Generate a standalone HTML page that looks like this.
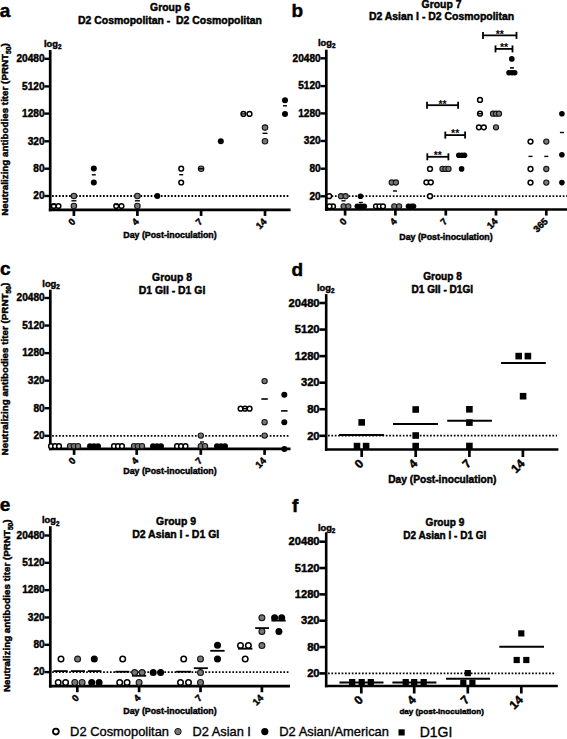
<!DOCTYPE html>
<html><head><meta charset="utf-8"><style>html,body{margin:0;padding:0;background:#fff;}svg{display:block;}</style></head>
<body>
<svg width="567" height="739" viewBox="0 0 567 739">
<rect width="567" height="739" fill="#fff"/>
<text x="-0.30" y="16.50" font-family="Liberation Sans, sans-serif" font-weight="bold" font-size="19" text-anchor="start" stroke="#000" stroke-width="0.45" >a</text>
<text x="170.00" y="10.60" font-family="Liberation Sans, sans-serif" font-weight="bold" font-size="10.4" text-anchor="middle" stroke="#000" stroke-width="0.45" >Group 6</text>
<text x="170.00" y="23.80" font-family="Liberation Sans, sans-serif" font-weight="bold" font-size="10.45" text-anchor="middle" stroke="#000" stroke-width="0.45" style="white-space:pre">D2 Cosmopolitan -  D2 Cosmopolitan</text>
<text x="0" y="0" font-family="Liberation Sans, sans-serif" font-weight="bold" font-size="9.82" stroke="#000" stroke-width="0.45" text-anchor="middle" transform="translate(8.30 129.50) rotate(-90)">Neutralizing antibodies titer (PRNT<tspan font-size="6.68" dy="2.95">50</tspan><tspan dy="-2.95">)</tspan></text>
<text x="44.00" y="46.80" font-family="Liberation Sans, sans-serif" font-weight="bold" font-size="9.3" stroke="#000" stroke-width="0.45">log<tspan font-size="6.32" dy="2.60">2</tspan></text>
<line x1="50.20" y1="50.00" x2="50.20" y2="211.25" stroke="#000" stroke-width="2.7" />
<line x1="48.85" y1="209.90" x2="290.60" y2="209.90" stroke="#000" stroke-width="2.7" />
<line x1="44.35" y1="58.80" x2="50.20" y2="58.80" stroke="#000" stroke-width="2.4" />
<text x="44.55" y="62.13" font-family="Liberation Sans, sans-serif" font-weight="bold" font-size="10.1" text-anchor="end" stroke="#000" stroke-width="0.45" >20480</text>
<line x1="44.35" y1="86.40" x2="50.20" y2="86.40" stroke="#000" stroke-width="2.4" />
<text x="44.55" y="89.73" font-family="Liberation Sans, sans-serif" font-weight="bold" font-size="10.1" text-anchor="end" stroke="#000" stroke-width="0.45" >5120</text>
<line x1="44.35" y1="113.60" x2="50.20" y2="113.60" stroke="#000" stroke-width="2.4" />
<text x="44.55" y="116.93" font-family="Liberation Sans, sans-serif" font-weight="bold" font-size="10.1" text-anchor="end" stroke="#000" stroke-width="0.45" >1280</text>
<line x1="44.35" y1="141.30" x2="50.20" y2="141.30" stroke="#000" stroke-width="2.4" />
<text x="44.55" y="144.63" font-family="Liberation Sans, sans-serif" font-weight="bold" font-size="10.1" text-anchor="end" stroke="#000" stroke-width="0.45" >320</text>
<line x1="44.35" y1="168.70" x2="50.20" y2="168.70" stroke="#000" stroke-width="2.4" />
<text x="44.55" y="172.03" font-family="Liberation Sans, sans-serif" font-weight="bold" font-size="10.1" text-anchor="end" stroke="#000" stroke-width="0.45" >80</text>
<line x1="44.35" y1="196.00" x2="50.20" y2="196.00" stroke="#000" stroke-width="2.4" />
<text x="44.55" y="199.33" font-family="Liberation Sans, sans-serif" font-weight="bold" font-size="10.1" text-anchor="end" stroke="#000" stroke-width="0.45" >20</text>
<line x1="52.05" y1="196.00" x2="290.00" y2="196.00" stroke="#000" stroke-width="1.8" stroke-dasharray="1.7 1.7"/>
<line x1="73.90" y1="209.90" x2="73.90" y2="215.95" stroke="#000" stroke-width="2.7" />
<text x="76.10" y="222.30" font-family="Liberation Sans, sans-serif" font-weight="bold" font-size="9.5" text-anchor="end" stroke="#000" stroke-width="0.45" transform="rotate(-45 76.10 222.30)">0</text>
<line x1="137.40" y1="209.90" x2="137.40" y2="215.95" stroke="#000" stroke-width="2.7" />
<text x="139.60" y="222.30" font-family="Liberation Sans, sans-serif" font-weight="bold" font-size="9.5" text-anchor="end" stroke="#000" stroke-width="0.45" transform="rotate(-45 139.60 222.30)">4</text>
<line x1="201.10" y1="209.90" x2="201.10" y2="215.95" stroke="#000" stroke-width="2.7" />
<text x="203.30" y="222.30" font-family="Liberation Sans, sans-serif" font-weight="bold" font-size="9.5" text-anchor="end" stroke="#000" stroke-width="0.45" transform="rotate(-45 203.30 222.30)">7</text>
<line x1="265.00" y1="209.90" x2="265.00" y2="215.95" stroke="#000" stroke-width="2.7" />
<text x="267.20" y="222.30" font-family="Liberation Sans, sans-serif" font-weight="bold" font-size="9.5" text-anchor="end" stroke="#000" stroke-width="0.45" transform="rotate(-45 267.20 222.30)">14</text>
<text x="170.00" y="238.10" font-family="Liberation Sans, sans-serif" font-weight="bold" font-size="8.8" text-anchor="middle" stroke="#000" stroke-width="0.45" >Day (Post-inoculation)</text>
<circle cx="53.80" cy="206.00" r="2.35" fill="#fff" stroke="#000" stroke-width="1.5"/>
<circle cx="58.50" cy="206.00" r="2.35" fill="#fff" stroke="#000" stroke-width="1.5"/>
<line x1="51.80" y1="204.50" x2="55.80" y2="204.50" stroke="#000" stroke-width="1.4" />
<circle cx="73.90" cy="196.00" r="2.75" fill="#787878" stroke="#151515" stroke-width="1.1"/>
<circle cx="73.90" cy="206.00" r="2.75" fill="#787878" stroke="#151515" stroke-width="1.1"/>
<line x1="71.40" y1="200.80" x2="76.40" y2="200.80" stroke="#000" stroke-width="1.4" />
<circle cx="93.80" cy="168.60" r="3.00" fill="#000"/>
<circle cx="93.80" cy="182.40" r="3.00" fill="#000"/>
<line x1="91.80" y1="174.80" x2="95.80" y2="174.80" stroke="#000" stroke-width="1.4" />
<circle cx="116.20" cy="206.00" r="2.35" fill="#fff" stroke="#000" stroke-width="1.5"/>
<circle cx="121.50" cy="206.00" r="2.35" fill="#fff" stroke="#000" stroke-width="1.5"/>
<line x1="114.20" y1="204.50" x2="118.20" y2="204.50" stroke="#000" stroke-width="1.4" />
<circle cx="137.40" cy="196.00" r="2.75" fill="#787878" stroke="#151515" stroke-width="1.1"/>
<circle cx="137.40" cy="206.00" r="2.75" fill="#787878" stroke="#151515" stroke-width="1.1"/>
<line x1="134.90" y1="200.80" x2="139.90" y2="200.80" stroke="#000" stroke-width="1.4" />
<circle cx="157.30" cy="196.00" r="3.00" fill="#000"/>
<circle cx="181.20" cy="168.70" r="2.35" fill="#fff" stroke="#000" stroke-width="1.5"/>
<circle cx="181.20" cy="182.50" r="2.35" fill="#fff" stroke="#000" stroke-width="1.5"/>
<line x1="179.20" y1="174.70" x2="183.20" y2="174.70" stroke="#000" stroke-width="1.4" />
<circle cx="201.10" cy="168.70" r="2.75" fill="#787878" stroke="#151515" stroke-width="1.1"/>
<line x1="198.60" y1="168.70" x2="203.60" y2="168.70" stroke="#000" stroke-width="1.4" />
<circle cx="220.80" cy="141.20" r="3.00" fill="#000"/>
<circle cx="249.50" cy="113.90" r="2.35" fill="#fff" stroke="#000" stroke-width="1.5"/>
<circle cx="243.40" cy="113.90" r="2.35" fill="#fff" stroke="#000" stroke-width="1.5"/>
<line x1="241.40" y1="113.90" x2="245.40" y2="113.90" stroke="#000" stroke-width="1.4" />
<circle cx="265.00" cy="127.60" r="2.75" fill="#787878" stroke="#151515" stroke-width="1.1"/>
<circle cx="265.00" cy="141.20" r="2.75" fill="#787878" stroke="#151515" stroke-width="1.1"/>
<line x1="262.50" y1="133.30" x2="267.50" y2="133.30" stroke="#000" stroke-width="1.4" />
<circle cx="285.00" cy="100.20" r="3.00" fill="#000"/>
<circle cx="285.00" cy="114.00" r="3.00" fill="#000"/>
<line x1="283.00" y1="105.80" x2="287.00" y2="105.80" stroke="#000" stroke-width="1.4" />
<text x="291.40" y="16.90" font-family="Liberation Sans, sans-serif" font-weight="bold" font-size="19" text-anchor="start" stroke="#000" stroke-width="0.45" >b</text>
<text x="441.50" y="7.60" font-family="Liberation Sans, sans-serif" font-weight="bold" font-size="10.4" text-anchor="middle" stroke="#000" stroke-width="0.45" >Group 7</text>
<text x="441.50" y="20.30" font-family="Liberation Sans, sans-serif" font-weight="bold" font-size="10.45" text-anchor="middle" stroke="#000" stroke-width="0.45" >D2 Asian I - D2 Cosmopolitan</text>
<text x="318.00" y="45.80" font-family="Liberation Sans, sans-serif" font-weight="bold" font-size="9.3" stroke="#000" stroke-width="0.45">log<tspan font-size="6.32" dy="2.60">2</tspan></text>
<line x1="326.30" y1="49.70" x2="326.30" y2="210.85" stroke="#000" stroke-width="2.7" />
<line x1="324.95" y1="209.50" x2="567.00" y2="209.50" stroke="#000" stroke-width="2.7" />
<line x1="320.45" y1="58.30" x2="326.30" y2="58.30" stroke="#000" stroke-width="2.4" />
<text x="320.65" y="61.63" font-family="Liberation Sans, sans-serif" font-weight="bold" font-size="10.1" text-anchor="end" stroke="#000" stroke-width="0.45" >20480</text>
<line x1="320.45" y1="86.10" x2="326.30" y2="86.10" stroke="#000" stroke-width="2.4" />
<text x="320.65" y="89.43" font-family="Liberation Sans, sans-serif" font-weight="bold" font-size="10.1" text-anchor="end" stroke="#000" stroke-width="0.45" >5120</text>
<line x1="320.45" y1="113.40" x2="326.30" y2="113.40" stroke="#000" stroke-width="2.4" />
<text x="320.65" y="116.73" font-family="Liberation Sans, sans-serif" font-weight="bold" font-size="10.1" text-anchor="end" stroke="#000" stroke-width="0.45" >1280</text>
<line x1="320.45" y1="141.00" x2="326.30" y2="141.00" stroke="#000" stroke-width="2.4" />
<text x="320.65" y="144.33" font-family="Liberation Sans, sans-serif" font-weight="bold" font-size="10.1" text-anchor="end" stroke="#000" stroke-width="0.45" >320</text>
<line x1="320.45" y1="168.70" x2="326.30" y2="168.70" stroke="#000" stroke-width="2.4" />
<text x="320.65" y="172.03" font-family="Liberation Sans, sans-serif" font-weight="bold" font-size="10.1" text-anchor="end" stroke="#000" stroke-width="0.45" >80</text>
<line x1="320.45" y1="196.30" x2="326.30" y2="196.30" stroke="#000" stroke-width="2.4" />
<text x="320.65" y="199.63" font-family="Liberation Sans, sans-serif" font-weight="bold" font-size="10.1" text-anchor="end" stroke="#000" stroke-width="0.45" >20</text>
<line x1="328.15" y1="196.20" x2="567.00" y2="196.20" stroke="#000" stroke-width="1.8" stroke-dasharray="1.7 1.7"/>
<line x1="345.10" y1="209.50" x2="345.10" y2="215.55" stroke="#000" stroke-width="2.7" />
<text x="347.30" y="221.90" font-family="Liberation Sans, sans-serif" font-weight="bold" font-size="9.5" text-anchor="end" stroke="#000" stroke-width="0.45" transform="rotate(-45 347.30 221.90)">0</text>
<line x1="395.40" y1="209.50" x2="395.40" y2="215.55" stroke="#000" stroke-width="2.7" />
<text x="397.60" y="221.90" font-family="Liberation Sans, sans-serif" font-weight="bold" font-size="9.5" text-anchor="end" stroke="#000" stroke-width="0.45" transform="rotate(-45 397.60 221.90)">4</text>
<line x1="445.80" y1="209.50" x2="445.80" y2="215.55" stroke="#000" stroke-width="2.7" />
<text x="448.00" y="221.90" font-family="Liberation Sans, sans-serif" font-weight="bold" font-size="9.5" text-anchor="end" stroke="#000" stroke-width="0.45" transform="rotate(-45 448.00 221.90)">7</text>
<line x1="496.00" y1="209.50" x2="496.00" y2="215.55" stroke="#000" stroke-width="2.7" />
<text x="498.20" y="221.90" font-family="Liberation Sans, sans-serif" font-weight="bold" font-size="9.5" text-anchor="end" stroke="#000" stroke-width="0.45" transform="rotate(-45 498.20 221.90)">14</text>
<line x1="546.30" y1="209.50" x2="546.30" y2="215.55" stroke="#000" stroke-width="2.7" />
<text x="548.50" y="221.90" font-family="Liberation Sans, sans-serif" font-weight="bold" font-size="9.5" text-anchor="end" stroke="#000" stroke-width="0.45" transform="rotate(-45 548.50 221.90)">365</text>
<text x="446.00" y="240.20" font-family="Liberation Sans, sans-serif" font-weight="bold" font-size="8.8" text-anchor="middle" stroke="#000" stroke-width="0.45" >Day (Post-inoculation)</text>
<circle cx="329.20" cy="196.20" r="2.40" fill="#fff" stroke="#000" stroke-width="1.5"/>
<circle cx="333.00" cy="206.30" r="2.40" fill="#fff" stroke="#000" stroke-width="1.5"/>
<circle cx="329.50" cy="206.30" r="2.40" fill="#fff" stroke="#000" stroke-width="1.5"/>
<circle cx="341.00" cy="196.20" r="2.60" fill="#787878" stroke="#151515" stroke-width="1.1"/>
<circle cx="345.60" cy="196.20" r="2.60" fill="#787878" stroke="#151515" stroke-width="1.1"/>
<circle cx="343.60" cy="206.30" r="2.60" fill="#787878" stroke="#151515" stroke-width="1.1"/>
<circle cx="348.30" cy="206.30" r="2.60" fill="#787878" stroke="#151515" stroke-width="1.1"/>
<line x1="341.50" y1="200.80" x2="345.50" y2="200.80" stroke="#000" stroke-width="1.4" />
<circle cx="360.50" cy="196.20" r="2.80" fill="#000"/>
<circle cx="357.30" cy="206.30" r="2.80" fill="#000"/>
<circle cx="360.80" cy="206.30" r="2.80" fill="#000"/>
<circle cx="364.30" cy="206.30" r="2.80" fill="#000"/>
<line x1="358.80" y1="202.50" x2="362.80" y2="202.50" stroke="#000" stroke-width="1.4" />
<circle cx="376.00" cy="206.30" r="2.40" fill="#fff" stroke="#000" stroke-width="1.5"/>
<circle cx="379.50" cy="206.30" r="2.40" fill="#fff" stroke="#000" stroke-width="1.5"/>
<circle cx="383.00" cy="206.30" r="2.40" fill="#fff" stroke="#000" stroke-width="1.5"/>
<circle cx="391.70" cy="182.50" r="2.60" fill="#787878" stroke="#151515" stroke-width="1.1"/>
<circle cx="395.90" cy="182.50" r="2.60" fill="#787878" stroke="#151515" stroke-width="1.1"/>
<circle cx="394.30" cy="206.30" r="2.60" fill="#787878" stroke="#151515" stroke-width="1.1"/>
<circle cx="399.10" cy="206.30" r="2.60" fill="#787878" stroke="#151515" stroke-width="1.1"/>
<line x1="393.00" y1="191.00" x2="397.00" y2="191.00" stroke="#000" stroke-width="1.4" />
<circle cx="408.50" cy="206.30" r="2.80" fill="#000"/>
<circle cx="411.50" cy="206.30" r="2.80" fill="#000"/>
<circle cx="413.50" cy="206.30" r="2.80" fill="#000"/>
<circle cx="430.00" cy="196.20" r="2.40" fill="#fff" stroke="#000" stroke-width="1.5"/>
<circle cx="426.40" cy="182.30" r="2.40" fill="#fff" stroke="#000" stroke-width="1.5"/>
<circle cx="430.80" cy="182.30" r="2.40" fill="#fff" stroke="#000" stroke-width="1.5"/>
<circle cx="430.00" cy="168.90" r="2.40" fill="#fff" stroke="#000" stroke-width="1.5"/>
<circle cx="442.50" cy="168.90" r="2.60" fill="#787878" stroke="#151515" stroke-width="1.1"/>
<circle cx="445.50" cy="168.90" r="2.60" fill="#787878" stroke="#151515" stroke-width="1.1"/>
<circle cx="448.50" cy="168.90" r="2.60" fill="#787878" stroke="#151515" stroke-width="1.1"/>
<circle cx="461.60" cy="168.90" r="2.80" fill="#000"/>
<circle cx="458.80" cy="155.30" r="2.80" fill="#000"/>
<circle cx="461.80" cy="155.30" r="2.80" fill="#000"/>
<circle cx="464.50" cy="155.30" r="2.80" fill="#000"/>
<circle cx="480.00" cy="99.90" r="2.40" fill="#fff" stroke="#000" stroke-width="1.5"/>
<circle cx="480.00" cy="113.70" r="2.40" fill="#fff" stroke="#000" stroke-width="1.5"/>
<line x1="478.00" y1="113.70" x2="482.00" y2="113.70" stroke="#000" stroke-width="1.4" />
<circle cx="478.90" cy="127.30" r="2.40" fill="#fff" stroke="#000" stroke-width="1.5"/>
<circle cx="483.80" cy="127.30" r="2.40" fill="#fff" stroke="#000" stroke-width="1.5"/>
<circle cx="493.00" cy="113.70" r="2.60" fill="#787878" stroke="#151515" stroke-width="1.1"/>
<circle cx="496.00" cy="113.70" r="2.60" fill="#787878" stroke="#151515" stroke-width="1.1"/>
<circle cx="499.00" cy="113.70" r="2.60" fill="#787878" stroke="#151515" stroke-width="1.1"/>
<circle cx="496.00" cy="127.30" r="2.60" fill="#787878" stroke="#151515" stroke-width="1.1"/>
<circle cx="511.80" cy="58.90" r="2.80" fill="#000"/>
<circle cx="509.00" cy="72.70" r="2.80" fill="#000"/>
<circle cx="512.00" cy="72.70" r="2.80" fill="#000"/>
<circle cx="514.70" cy="72.70" r="2.80" fill="#000"/>
<line x1="510.10" y1="67.90" x2="513.90" y2="67.90" stroke="#000" stroke-width="1.6" />
<circle cx="530.50" cy="141.60" r="2.40" fill="#fff" stroke="#000" stroke-width="1.5"/>
<circle cx="530.50" cy="169.00" r="2.40" fill="#fff" stroke="#000" stroke-width="1.5"/>
<circle cx="530.50" cy="182.60" r="2.40" fill="#fff" stroke="#000" stroke-width="1.5"/>
<line x1="528.50" y1="156.40" x2="532.50" y2="156.40" stroke="#000" stroke-width="1.4" />
<circle cx="546.30" cy="141.60" r="2.60" fill="#787878" stroke="#151515" stroke-width="1.1"/>
<circle cx="546.30" cy="169.00" r="2.60" fill="#787878" stroke="#151515" stroke-width="1.1"/>
<circle cx="546.30" cy="182.60" r="2.60" fill="#787878" stroke="#151515" stroke-width="1.1"/>
<line x1="544.30" y1="156.40" x2="548.30" y2="156.40" stroke="#000" stroke-width="1.4" />
<circle cx="561.90" cy="113.80" r="2.80" fill="#000"/>
<circle cx="561.90" cy="154.80" r="2.80" fill="#000"/>
<circle cx="561.90" cy="182.60" r="2.80" fill="#000"/>
<line x1="559.90" y1="132.50" x2="563.90" y2="132.50" stroke="#000" stroke-width="1.4" />
<line x1="427.30" y1="156.80" x2="448.40" y2="156.80" stroke="#000" stroke-width="1.8" />
<line x1="427.30" y1="153.30" x2="427.30" y2="160.30" stroke="#000" stroke-width="1.8" />
<line x1="448.40" y1="153.30" x2="448.40" y2="160.30" stroke="#000" stroke-width="1.8" />
<text x="437.85" y="159.10" font-family="Liberation Sans, sans-serif" font-weight="bold" font-size="10.5" text-anchor="middle">**</text>
<line x1="445.30" y1="135.10" x2="465.10" y2="135.10" stroke="#000" stroke-width="1.8" />
<line x1="445.30" y1="131.60" x2="445.30" y2="138.60" stroke="#000" stroke-width="1.8" />
<line x1="465.10" y1="131.60" x2="465.10" y2="138.60" stroke="#000" stroke-width="1.8" />
<text x="455.20" y="137.40" font-family="Liberation Sans, sans-serif" font-weight="bold" font-size="10.5" text-anchor="middle">**</text>
<line x1="427.00" y1="105.20" x2="458.10" y2="105.20" stroke="#000" stroke-width="1.8" />
<line x1="427.00" y1="101.70" x2="427.00" y2="108.70" stroke="#000" stroke-width="1.8" />
<line x1="458.10" y1="101.70" x2="458.10" y2="108.70" stroke="#000" stroke-width="1.8" />
<text x="442.55" y="107.50" font-family="Liberation Sans, sans-serif" font-weight="bold" font-size="10.5" text-anchor="middle">**</text>
<line x1="483.00" y1="35.40" x2="516.50" y2="35.40" stroke="#000" stroke-width="1.8" />
<line x1="483.00" y1="31.90" x2="483.00" y2="38.90" stroke="#000" stroke-width="1.8" />
<line x1="516.50" y1="31.90" x2="516.50" y2="38.90" stroke="#000" stroke-width="1.8" />
<text x="499.75" y="37.70" font-family="Liberation Sans, sans-serif" font-weight="bold" font-size="10.5" text-anchor="middle">**</text>
<line x1="495.50" y1="48.90" x2="512.50" y2="48.90" stroke="#000" stroke-width="1.8" />
<line x1="495.50" y1="45.40" x2="495.50" y2="52.40" stroke="#000" stroke-width="1.8" />
<line x1="512.50" y1="45.40" x2="512.50" y2="52.40" stroke="#000" stroke-width="1.8" />
<text x="504.00" y="51.20" font-family="Liberation Sans, sans-serif" font-weight="bold" font-size="10.5" text-anchor="middle">**</text>
<text x="0.00" y="275.30" font-family="Liberation Sans, sans-serif" font-weight="bold" font-size="19" text-anchor="start" stroke="#000" stroke-width="0.45" >c</text>
<text x="172.00" y="281.00" font-family="Liberation Sans, sans-serif" font-weight="bold" font-size="10.4" text-anchor="middle" stroke="#000" stroke-width="0.45" >Group 8</text>
<text x="172.00" y="294.30" font-family="Liberation Sans, sans-serif" font-weight="bold" font-size="10.45" text-anchor="middle" stroke="#000" stroke-width="0.45" >D1 GII - D1 GI</text>
<text x="0" y="0" font-family="Liberation Sans, sans-serif" font-weight="bold" font-size="9.82" stroke="#000" stroke-width="0.45" text-anchor="middle" transform="translate(8.30 369.10) rotate(-90)">Neutralizing antibodies titer (PRNT<tspan font-size="6.68" dy="2.95">50</tspan><tspan dy="-2.95">)</tspan></text>
<text x="42.30" y="286.60" font-family="Liberation Sans, sans-serif" font-weight="bold" font-size="9.3" stroke="#000" stroke-width="0.45">log<tspan font-size="6.32" dy="2.60">2</tspan></text>
<line x1="50.30" y1="289.70" x2="50.30" y2="450.15" stroke="#000" stroke-width="2.7" />
<line x1="48.95" y1="448.80" x2="290.50" y2="448.80" stroke="#000" stroke-width="2.7" />
<line x1="44.45" y1="298.00" x2="50.30" y2="298.00" stroke="#000" stroke-width="2.4" />
<text x="44.65" y="301.33" font-family="Liberation Sans, sans-serif" font-weight="bold" font-size="10.1" text-anchor="end" stroke="#000" stroke-width="0.45" >20480</text>
<line x1="44.45" y1="325.56" x2="50.30" y2="325.56" stroke="#000" stroke-width="2.4" />
<text x="44.65" y="328.89" font-family="Liberation Sans, sans-serif" font-weight="bold" font-size="10.1" text-anchor="end" stroke="#000" stroke-width="0.45" >5120</text>
<line x1="44.45" y1="353.12" x2="50.30" y2="353.12" stroke="#000" stroke-width="2.4" />
<text x="44.65" y="356.45" font-family="Liberation Sans, sans-serif" font-weight="bold" font-size="10.1" text-anchor="end" stroke="#000" stroke-width="0.45" >1280</text>
<line x1="44.45" y1="380.68" x2="50.30" y2="380.68" stroke="#000" stroke-width="2.4" />
<text x="44.65" y="384.01" font-family="Liberation Sans, sans-serif" font-weight="bold" font-size="10.1" text-anchor="end" stroke="#000" stroke-width="0.45" >320</text>
<line x1="44.45" y1="408.24" x2="50.30" y2="408.24" stroke="#000" stroke-width="2.4" />
<text x="44.65" y="411.57" font-family="Liberation Sans, sans-serif" font-weight="bold" font-size="10.1" text-anchor="end" stroke="#000" stroke-width="0.45" >80</text>
<line x1="44.45" y1="435.80" x2="50.30" y2="435.80" stroke="#000" stroke-width="2.4" />
<text x="44.65" y="439.13" font-family="Liberation Sans, sans-serif" font-weight="bold" font-size="10.1" text-anchor="end" stroke="#000" stroke-width="0.45" >20</text>
<line x1="52.15" y1="435.80" x2="290.00" y2="435.80" stroke="#000" stroke-width="1.8" stroke-dasharray="1.7 1.7"/>
<line x1="74.10" y1="448.80" x2="74.10" y2="454.85" stroke="#000" stroke-width="2.7" />
<text x="76.30" y="461.20" font-family="Liberation Sans, sans-serif" font-weight="bold" font-size="9.5" text-anchor="end" stroke="#000" stroke-width="0.45" transform="rotate(-45 76.30 461.20)">0</text>
<line x1="136.70" y1="448.80" x2="136.70" y2="454.85" stroke="#000" stroke-width="2.7" />
<text x="138.90" y="461.20" font-family="Liberation Sans, sans-serif" font-weight="bold" font-size="9.5" text-anchor="end" stroke="#000" stroke-width="0.45" transform="rotate(-45 138.90 461.20)">4</text>
<line x1="200.80" y1="448.80" x2="200.80" y2="454.85" stroke="#000" stroke-width="2.7" />
<text x="203.00" y="461.20" font-family="Liberation Sans, sans-serif" font-weight="bold" font-size="9.5" text-anchor="end" stroke="#000" stroke-width="0.45" transform="rotate(-45 203.00 461.20)">7</text>
<line x1="264.60" y1="448.80" x2="264.60" y2="454.85" stroke="#000" stroke-width="2.7" />
<text x="266.80" y="461.20" font-family="Liberation Sans, sans-serif" font-weight="bold" font-size="9.5" text-anchor="end" stroke="#000" stroke-width="0.45" transform="rotate(-45 266.80 461.20)">14</text>
<text x="170.00" y="473.90" font-family="Liberation Sans, sans-serif" font-weight="bold" font-size="8.8" text-anchor="middle" stroke="#000" stroke-width="0.45" >Day (Post-inoculation)</text>
<circle cx="51.00" cy="446.20" r="2.35" fill="#fff" stroke="#000" stroke-width="1.5"/>
<circle cx="55.00" cy="446.20" r="2.35" fill="#fff" stroke="#000" stroke-width="1.5"/>
<circle cx="59.00" cy="446.20" r="2.35" fill="#fff" stroke="#000" stroke-width="1.5"/>
<circle cx="70.00" cy="446.20" r="2.65" fill="#787878" stroke="#151515" stroke-width="1.1"/>
<circle cx="74.00" cy="446.20" r="2.65" fill="#787878" stroke="#151515" stroke-width="1.1"/>
<circle cx="78.00" cy="446.20" r="2.65" fill="#787878" stroke="#151515" stroke-width="1.1"/>
<circle cx="90.00" cy="446.20" r="3.00" fill="#000"/>
<circle cx="94.00" cy="446.20" r="3.00" fill="#000"/>
<circle cx="98.00" cy="446.20" r="3.00" fill="#000"/>
<circle cx="114.00" cy="446.20" r="2.35" fill="#fff" stroke="#000" stroke-width="1.5"/>
<circle cx="118.00" cy="446.20" r="2.35" fill="#fff" stroke="#000" stroke-width="1.5"/>
<circle cx="122.00" cy="446.20" r="2.35" fill="#fff" stroke="#000" stroke-width="1.5"/>
<circle cx="134.00" cy="446.20" r="2.65" fill="#787878" stroke="#151515" stroke-width="1.1"/>
<circle cx="138.00" cy="446.20" r="2.65" fill="#787878" stroke="#151515" stroke-width="1.1"/>
<circle cx="142.00" cy="446.20" r="2.65" fill="#787878" stroke="#151515" stroke-width="1.1"/>
<circle cx="153.00" cy="446.20" r="3.00" fill="#000"/>
<circle cx="157.00" cy="446.20" r="3.00" fill="#000"/>
<circle cx="161.00" cy="446.20" r="3.00" fill="#000"/>
<circle cx="177.00" cy="446.20" r="2.35" fill="#fff" stroke="#000" stroke-width="1.5"/>
<circle cx="181.00" cy="446.20" r="2.35" fill="#fff" stroke="#000" stroke-width="1.5"/>
<circle cx="185.50" cy="446.20" r="2.35" fill="#fff" stroke="#000" stroke-width="1.5"/>
<circle cx="217.00" cy="446.20" r="3.00" fill="#000"/>
<circle cx="221.00" cy="446.20" r="3.00" fill="#000"/>
<circle cx="225.00" cy="446.20" r="3.00" fill="#000"/>
<circle cx="200.80" cy="446.20" r="2.65" fill="#787878" stroke="#151515" stroke-width="1.1"/>
<circle cx="205.00" cy="446.20" r="2.65" fill="#787878" stroke="#151515" stroke-width="1.1"/>
<circle cx="200.80" cy="435.60" r="2.65" fill="#787878" stroke="#151515" stroke-width="1.1"/>
<line x1="200.00" y1="442.00" x2="204.00" y2="442.00" stroke="#000" stroke-width="1.4" />
<circle cx="240.60" cy="408.70" r="2.35" fill="#fff" stroke="#000" stroke-width="1.5"/>
<circle cx="245.00" cy="408.70" r="2.35" fill="#fff" stroke="#000" stroke-width="1.5"/>
<circle cx="249.60" cy="408.70" r="2.35" fill="#fff" stroke="#000" stroke-width="1.5"/>
<line x1="243.00" y1="408.70" x2="247.00" y2="408.70" stroke="#000" stroke-width="1.4" />
<circle cx="264.60" cy="381.10" r="2.65" fill="#787878" stroke="#151515" stroke-width="1.1"/>
<circle cx="264.60" cy="422.20" r="2.65" fill="#787878" stroke="#151515" stroke-width="1.1"/>
<circle cx="264.60" cy="435.60" r="2.65" fill="#787878" stroke="#151515" stroke-width="1.1"/>
<line x1="261.35" y1="399.00" x2="267.85" y2="399.00" stroke="#000" stroke-width="1.6" />
<circle cx="284.30" cy="394.80" r="3.00" fill="#000"/>
<circle cx="284.30" cy="422.20" r="3.00" fill="#000"/>
<circle cx="284.30" cy="449.10" r="3.00" fill="#000"/>
<line x1="281.05" y1="410.90" x2="287.55" y2="410.90" stroke="#000" stroke-width="1.6" />
<text x="291.60" y="275.80" font-family="Liberation Sans, sans-serif" font-weight="bold" font-size="19" text-anchor="start" stroke="#000" stroke-width="0.45" >d</text>
<text x="442.50" y="280.00" font-family="Liberation Sans, sans-serif" font-weight="bold" font-size="10.1" text-anchor="middle" stroke="#000" stroke-width="0.45" >Group 8</text>
<text x="442.30" y="292.70" font-family="Liberation Sans, sans-serif" font-weight="bold" font-size="10.1" text-anchor="middle" stroke="#000" stroke-width="0.45" >D1 GII - D1GI</text>
<text x="317.00" y="290.80" font-family="Liberation Sans, sans-serif" font-weight="bold" font-size="9.3" stroke="#000" stroke-width="0.45">log<tspan font-size="6.32" dy="2.60">2</tspan></text>
<line x1="326.20" y1="294.10" x2="326.20" y2="450.80" stroke="#000" stroke-width="2.6" />
<line x1="324.90" y1="449.50" x2="558.40" y2="449.50" stroke="#000" stroke-width="2.6" />
<line x1="319.40" y1="303.00" x2="326.20" y2="303.00" stroke="#000" stroke-width="2.6" />
<text x="319.60" y="306.70" font-family="Liberation Sans, sans-serif" font-weight="bold" font-size="11.2" text-anchor="end" stroke="#000" stroke-width="0.45" >20480</text>
<line x1="319.40" y1="329.56" x2="326.20" y2="329.56" stroke="#000" stroke-width="2.6" />
<text x="319.60" y="333.26" font-family="Liberation Sans, sans-serif" font-weight="bold" font-size="11.2" text-anchor="end" stroke="#000" stroke-width="0.45" >5120</text>
<line x1="319.40" y1="356.12" x2="326.20" y2="356.12" stroke="#000" stroke-width="2.6" />
<text x="319.60" y="359.82" font-family="Liberation Sans, sans-serif" font-weight="bold" font-size="11.2" text-anchor="end" stroke="#000" stroke-width="0.45" >1280</text>
<line x1="319.40" y1="382.68" x2="326.20" y2="382.68" stroke="#000" stroke-width="2.6" />
<text x="319.60" y="386.38" font-family="Liberation Sans, sans-serif" font-weight="bold" font-size="11.2" text-anchor="end" stroke="#000" stroke-width="0.45" >320</text>
<line x1="319.40" y1="409.24" x2="326.20" y2="409.24" stroke="#000" stroke-width="2.6" />
<text x="319.60" y="412.94" font-family="Liberation Sans, sans-serif" font-weight="bold" font-size="11.2" text-anchor="end" stroke="#000" stroke-width="0.45" >80</text>
<line x1="319.40" y1="435.80" x2="326.20" y2="435.80" stroke="#000" stroke-width="2.6" />
<text x="319.60" y="439.50" font-family="Liberation Sans, sans-serif" font-weight="bold" font-size="11.2" text-anchor="end" stroke="#000" stroke-width="0.45" >20</text>
<line x1="328.00" y1="435.60" x2="557.00" y2="435.60" stroke="#000" stroke-width="1.8" stroke-dasharray="1.7 1.7"/>
<line x1="361.70" y1="449.50" x2="361.70" y2="457.00" stroke="#000" stroke-width="2.7" />
<text x="364.20" y="464.30" font-family="Liberation Sans, sans-serif" font-weight="bold" font-size="12" text-anchor="end" stroke="#000" stroke-width="0.45" transform="rotate(-45 364.20 464.30)">0</text>
<line x1="415.70" y1="449.50" x2="415.70" y2="457.00" stroke="#000" stroke-width="2.7" />
<text x="418.20" y="464.30" font-family="Liberation Sans, sans-serif" font-weight="bold" font-size="12" text-anchor="end" stroke="#000" stroke-width="0.45" transform="rotate(-45 418.20 464.30)">4</text>
<line x1="469.40" y1="449.50" x2="469.40" y2="457.00" stroke="#000" stroke-width="2.7" />
<text x="471.90" y="464.30" font-family="Liberation Sans, sans-serif" font-weight="bold" font-size="12" text-anchor="end" stroke="#000" stroke-width="0.45" transform="rotate(-45 471.90 464.30)">7</text>
<line x1="522.90" y1="449.50" x2="522.90" y2="457.00" stroke="#000" stroke-width="2.7" />
<text x="525.40" y="464.30" font-family="Liberation Sans, sans-serif" font-weight="bold" font-size="12" text-anchor="end" stroke="#000" stroke-width="0.45" transform="rotate(-45 525.40 464.30)">14</text>
<text x="442.30" y="483.30" font-family="Liberation Sans, sans-serif" font-weight="bold" font-size="10.2" text-anchor="middle" stroke="#000" stroke-width="0.45" >Day (Post-inoculation)</text>
<rect x="353.70" y="442.80" width="6.6" height="6.6" fill="#000"/>
<rect x="362.80" y="442.80" width="6.6" height="6.6" fill="#000"/>
<rect x="358.40" y="419.10" width="6.6" height="6.6" fill="#000"/>
<line x1="339.00" y1="435.10" x2="384.10" y2="435.10" stroke="#000" stroke-width="2" />
<rect x="412.40" y="406.20" width="6.6" height="6.6" fill="#000"/>
<rect x="412.40" y="432.20" width="6.6" height="6.6" fill="#000"/>
<rect x="412.40" y="442.80" width="6.6" height="6.6" fill="#000"/>
<line x1="393.00" y1="423.90" x2="437.90" y2="423.90" stroke="#000" stroke-width="2" />
<rect x="466.10" y="406.00" width="6.6" height="6.6" fill="#000"/>
<rect x="466.10" y="419.30" width="6.6" height="6.6" fill="#000"/>
<rect x="466.10" y="442.70" width="6.6" height="6.6" fill="#000"/>
<line x1="447.20" y1="420.70" x2="491.90" y2="420.70" stroke="#000" stroke-width="2" />
<rect x="515.40" y="352.80" width="6.6" height="6.6" fill="#000"/>
<rect x="524.60" y="352.80" width="6.6" height="6.6" fill="#000"/>
<rect x="519.80" y="392.90" width="6.6" height="6.6" fill="#000"/>
<line x1="501.10" y1="362.90" x2="545.80" y2="362.90" stroke="#000" stroke-width="2" />
<text x="-0.30" y="511.20" font-family="Liberation Sans, sans-serif" font-weight="bold" font-size="19" text-anchor="start" stroke="#000" stroke-width="0.45" >e</text>
<text x="176.00" y="524.50" font-family="Liberation Sans, sans-serif" font-weight="bold" font-size="10.4" text-anchor="middle" stroke="#000" stroke-width="0.45" >Group 9</text>
<text x="175.70" y="537.60" font-family="Liberation Sans, sans-serif" font-weight="bold" font-size="10.5" text-anchor="middle" stroke="#000" stroke-width="0.45" >D2 Asian I - D1 GI</text>
<text x="0" y="0" font-family="Liberation Sans, sans-serif" font-weight="bold" font-size="9.82" stroke="#000" stroke-width="0.45" text-anchor="middle" transform="translate(10.20 605.70) rotate(-90)">Neutralizing antibodies titer (PRNT<tspan font-size="6.68" dy="2.95">50</tspan><tspan dy="-2.95">)</tspan></text>
<text x="42.00" y="523.40" font-family="Liberation Sans, sans-serif" font-weight="bold" font-size="9.3" stroke="#000" stroke-width="0.45">log<tspan font-size="6.32" dy="2.60">2</tspan></text>
<line x1="50.30" y1="526.20" x2="50.30" y2="687.55" stroke="#000" stroke-width="2.7" />
<line x1="48.95" y1="686.20" x2="290.00" y2="686.20" stroke="#000" stroke-width="2.7" />
<line x1="44.45" y1="535.50" x2="50.30" y2="535.50" stroke="#000" stroke-width="2.4" />
<text x="44.65" y="538.83" font-family="Liberation Sans, sans-serif" font-weight="bold" font-size="10.1" text-anchor="end" stroke="#000" stroke-width="0.45" >20480</text>
<line x1="44.45" y1="562.82" x2="50.30" y2="562.82" stroke="#000" stroke-width="2.4" />
<text x="44.65" y="566.15" font-family="Liberation Sans, sans-serif" font-weight="bold" font-size="10.1" text-anchor="end" stroke="#000" stroke-width="0.45" >5120</text>
<line x1="44.45" y1="590.14" x2="50.30" y2="590.14" stroke="#000" stroke-width="2.4" />
<text x="44.65" y="593.47" font-family="Liberation Sans, sans-serif" font-weight="bold" font-size="10.1" text-anchor="end" stroke="#000" stroke-width="0.45" >1280</text>
<line x1="44.45" y1="617.46" x2="50.30" y2="617.46" stroke="#000" stroke-width="2.4" />
<text x="44.65" y="620.79" font-family="Liberation Sans, sans-serif" font-weight="bold" font-size="10.1" text-anchor="end" stroke="#000" stroke-width="0.45" >320</text>
<line x1="44.45" y1="644.78" x2="50.30" y2="644.78" stroke="#000" stroke-width="2.4" />
<text x="44.65" y="648.11" font-family="Liberation Sans, sans-serif" font-weight="bold" font-size="10.1" text-anchor="end" stroke="#000" stroke-width="0.45" >80</text>
<line x1="44.45" y1="672.10" x2="50.30" y2="672.10" stroke="#000" stroke-width="2.4" />
<text x="44.65" y="675.43" font-family="Liberation Sans, sans-serif" font-weight="bold" font-size="10.1" text-anchor="end" stroke="#000" stroke-width="0.45" >20</text>
<line x1="52.15" y1="672.10" x2="290.00" y2="672.10" stroke="#000" stroke-width="1.8" stroke-dasharray="1.7 1.7"/>
<line x1="77.30" y1="686.20" x2="77.30" y2="692.25" stroke="#000" stroke-width="2.7" />
<text x="79.50" y="698.60" font-family="Liberation Sans, sans-serif" font-weight="bold" font-size="9.5" text-anchor="end" stroke="#000" stroke-width="0.45" transform="rotate(-45 79.50 698.60)">0</text>
<line x1="139.10" y1="686.20" x2="139.10" y2="692.25" stroke="#000" stroke-width="2.7" />
<text x="141.30" y="698.60" font-family="Liberation Sans, sans-serif" font-weight="bold" font-size="9.5" text-anchor="end" stroke="#000" stroke-width="0.45" transform="rotate(-45 141.30 698.60)">4</text>
<line x1="200.50" y1="686.20" x2="200.50" y2="692.25" stroke="#000" stroke-width="2.7" />
<text x="202.70" y="698.60" font-family="Liberation Sans, sans-serif" font-weight="bold" font-size="9.5" text-anchor="end" stroke="#000" stroke-width="0.45" transform="rotate(-45 202.70 698.60)">7</text>
<line x1="261.90" y1="686.20" x2="261.90" y2="692.25" stroke="#000" stroke-width="2.7" />
<text x="264.10" y="698.60" font-family="Liberation Sans, sans-serif" font-weight="bold" font-size="9.5" text-anchor="end" stroke="#000" stroke-width="0.45" transform="rotate(-45 264.10 698.60)">14</text>
<text x="170.00" y="714.40" font-family="Liberation Sans, sans-serif" font-weight="bold" font-size="8.8" text-anchor="middle" stroke="#000" stroke-width="0.45" >Day (Post-inoculation)</text>
<circle cx="61.00" cy="659.10" r="2.75" fill="#fff" stroke="#000" stroke-width="1.5"/>
<circle cx="58.20" cy="682.50" r="2.75" fill="#fff" stroke="#000" stroke-width="1.5"/>
<circle cx="65.60" cy="682.50" r="2.75" fill="#fff" stroke="#000" stroke-width="1.5"/>
<line x1="53.40" y1="671.10" x2="67.70" y2="671.10" stroke="#000" stroke-width="1.8" />
<circle cx="77.60" cy="659.10" r="2.95" fill="#787878" stroke="#151515" stroke-width="1.1"/>
<circle cx="74.80" cy="682.50" r="2.95" fill="#787878" stroke="#151515" stroke-width="1.1"/>
<circle cx="82.10" cy="682.50" r="2.95" fill="#787878" stroke="#151515" stroke-width="1.1"/>
<line x1="70.90" y1="671.10" x2="85.00" y2="671.10" stroke="#000" stroke-width="1.8" />
<circle cx="94.30" cy="659.10" r="3.50" fill="#000"/>
<circle cx="91.70" cy="682.50" r="3.50" fill="#000"/>
<circle cx="99.10" cy="682.50" r="3.50" fill="#000"/>
<line x1="87.80" y1="671.10" x2="101.30" y2="671.10" stroke="#000" stroke-width="1.8" />
<circle cx="122.70" cy="658.90" r="2.75" fill="#fff" stroke="#000" stroke-width="1.5"/>
<circle cx="119.70" cy="682.50" r="2.75" fill="#fff" stroke="#000" stroke-width="1.5"/>
<circle cx="127.10" cy="682.50" r="2.75" fill="#fff" stroke="#000" stroke-width="1.5"/>
<line x1="115.30" y1="671.70" x2="129.40" y2="671.70" stroke="#000" stroke-width="1.8" />
<line x1="132.00" y1="675.80" x2="146.20" y2="675.80" stroke="#000" stroke-width="1.8" />
<circle cx="134.70" cy="672.60" r="2.95" fill="#787878" stroke="#151515" stroke-width="1.1"/>
<circle cx="142.10" cy="672.60" r="2.95" fill="#787878" stroke="#151515" stroke-width="1.1"/>
<circle cx="139.10" cy="682.50" r="2.95" fill="#787878" stroke="#151515" stroke-width="1.1"/>
<circle cx="153.20" cy="672.60" r="3.50" fill="#000"/>
<circle cx="160.60" cy="672.60" r="3.50" fill="#000"/>
<circle cx="183.70" cy="658.90" r="2.75" fill="#fff" stroke="#000" stroke-width="1.5"/>
<circle cx="180.50" cy="682.50" r="2.75" fill="#fff" stroke="#000" stroke-width="1.5"/>
<circle cx="188.50" cy="682.50" r="2.75" fill="#fff" stroke="#000" stroke-width="1.5"/>
<line x1="176.10" y1="671.70" x2="191.10" y2="671.70" stroke="#000" stroke-width="1.8" />
<circle cx="200.50" cy="658.90" r="2.95" fill="#787878" stroke="#151515" stroke-width="1.1"/>
<circle cx="200.50" cy="672.60" r="2.95" fill="#787878" stroke="#151515" stroke-width="1.1"/>
<circle cx="200.50" cy="682.50" r="2.95" fill="#787878" stroke="#151515" stroke-width="1.1"/>
<line x1="193.80" y1="668.20" x2="207.90" y2="668.20" stroke="#000" stroke-width="1.8" />
<circle cx="217.50" cy="645.20" r="3.50" fill="#000"/>
<circle cx="217.50" cy="659.00" r="3.50" fill="#000"/>
<line x1="210.30" y1="650.80" x2="224.60" y2="650.80" stroke="#000" stroke-width="1.8" />
<circle cx="240.50" cy="645.60" r="2.75" fill="#fff" stroke="#000" stroke-width="1.5"/>
<circle cx="248.40" cy="645.60" r="2.75" fill="#fff" stroke="#000" stroke-width="1.5"/>
<circle cx="245.20" cy="659.00" r="2.75" fill="#fff" stroke="#000" stroke-width="1.5"/>
<line x1="238.00" y1="648.70" x2="252.40" y2="648.70" stroke="#000" stroke-width="1.8" />
<circle cx="261.90" cy="617.80" r="2.95" fill="#787878" stroke="#151515" stroke-width="1.1"/>
<circle cx="261.90" cy="631.40" r="2.95" fill="#787878" stroke="#151515" stroke-width="1.1"/>
<circle cx="261.90" cy="645.60" r="2.95" fill="#787878" stroke="#151515" stroke-width="1.1"/>
<line x1="255.20" y1="628.10" x2="269.00" y2="628.10" stroke="#000" stroke-width="1.8" />
<circle cx="274.60" cy="617.80" r="3.50" fill="#000"/>
<circle cx="281.70" cy="617.80" r="3.50" fill="#000"/>
<circle cx="278.90" cy="631.40" r="3.50" fill="#000"/>
<line x1="271.40" y1="620.60" x2="285.70" y2="620.60" stroke="#000" stroke-width="1.8" />
<text x="291.90" y="512.00" font-family="Liberation Sans, sans-serif" font-weight="bold" font-size="19" text-anchor="start" stroke="#000" stroke-width="0.45" >f</text>
<text x="444.90" y="526.30" font-family="Liberation Sans, sans-serif" font-weight="bold" font-size="10.1" text-anchor="middle" stroke="#000" stroke-width="0.45" >Group 9</text>
<text x="444.80" y="539.00" font-family="Liberation Sans, sans-serif" font-weight="bold" font-size="10.0" text-anchor="middle" stroke="#000" stroke-width="0.45" >D2 Asian I - D1 GI</text>
<text x="317.90" y="530.80" font-family="Liberation Sans, sans-serif" font-weight="bold" font-size="9.3" stroke="#000" stroke-width="0.45">log<tspan font-size="6.32" dy="2.60">2</tspan></text>
<line x1="326.20" y1="532.30" x2="326.20" y2="687.30" stroke="#000" stroke-width="2.6" />
<line x1="324.90" y1="686.00" x2="557.80" y2="686.00" stroke="#000" stroke-width="2.6" />
<line x1="319.40" y1="541.70" x2="326.20" y2="541.70" stroke="#000" stroke-width="2.6" />
<text x="319.60" y="545.40" font-family="Liberation Sans, sans-serif" font-weight="bold" font-size="11.2" text-anchor="end" stroke="#000" stroke-width="0.45" >20480</text>
<line x1="319.40" y1="568.04" x2="326.20" y2="568.04" stroke="#000" stroke-width="2.6" />
<text x="319.60" y="571.74" font-family="Liberation Sans, sans-serif" font-weight="bold" font-size="11.2" text-anchor="end" stroke="#000" stroke-width="0.45" >5120</text>
<line x1="319.40" y1="594.38" x2="326.20" y2="594.38" stroke="#000" stroke-width="2.6" />
<text x="319.60" y="598.08" font-family="Liberation Sans, sans-serif" font-weight="bold" font-size="11.2" text-anchor="end" stroke="#000" stroke-width="0.45" >1280</text>
<line x1="319.40" y1="620.72" x2="326.20" y2="620.72" stroke="#000" stroke-width="2.6" />
<text x="319.60" y="624.42" font-family="Liberation Sans, sans-serif" font-weight="bold" font-size="11.2" text-anchor="end" stroke="#000" stroke-width="0.45" >320</text>
<line x1="319.40" y1="647.06" x2="326.20" y2="647.06" stroke="#000" stroke-width="2.6" />
<text x="319.60" y="650.76" font-family="Liberation Sans, sans-serif" font-weight="bold" font-size="11.2" text-anchor="end" stroke="#000" stroke-width="0.45" >80</text>
<line x1="319.40" y1="673.40" x2="326.20" y2="673.40" stroke="#000" stroke-width="2.6" />
<text x="319.60" y="677.10" font-family="Liberation Sans, sans-serif" font-weight="bold" font-size="11.2" text-anchor="end" stroke="#000" stroke-width="0.45" >20</text>
<line x1="328.00" y1="673.40" x2="555.70" y2="673.40" stroke="#000" stroke-width="1.8" stroke-dasharray="1.7 1.7"/>
<line x1="361.30" y1="686.00" x2="361.30" y2="693.50" stroke="#000" stroke-width="2.7" />
<text x="363.80" y="700.50" font-family="Liberation Sans, sans-serif" font-weight="bold" font-size="12" text-anchor="end" stroke="#000" stroke-width="0.45" transform="rotate(-45 363.80 700.50)">0</text>
<line x1="414.20" y1="686.00" x2="414.20" y2="693.50" stroke="#000" stroke-width="2.7" />
<text x="416.70" y="700.50" font-family="Liberation Sans, sans-serif" font-weight="bold" font-size="12" text-anchor="end" stroke="#000" stroke-width="0.45" transform="rotate(-45 416.70 700.50)">4</text>
<line x1="467.80" y1="686.00" x2="467.80" y2="693.50" stroke="#000" stroke-width="2.7" />
<text x="470.30" y="700.50" font-family="Liberation Sans, sans-serif" font-weight="bold" font-size="12" text-anchor="end" stroke="#000" stroke-width="0.45" transform="rotate(-45 470.30 700.50)">7</text>
<line x1="521.30" y1="686.00" x2="521.30" y2="693.50" stroke="#000" stroke-width="2.7" />
<text x="523.80" y="700.50" font-family="Liberation Sans, sans-serif" font-weight="bold" font-size="12" text-anchor="end" stroke="#000" stroke-width="0.45" transform="rotate(-45 523.80 700.50)">14</text>
<text x="441.70" y="714.10" font-family="Liberation Sans, sans-serif" font-weight="bold" font-size="8.1" text-anchor="middle" stroke="#000" stroke-width="0.45" >day (post-inoculation)</text>
<rect x="349.10" y="679.00" width="6.2" height="6.2" fill="#000"/>
<rect x="358.60" y="679.00" width="6.2" height="6.2" fill="#000"/>
<rect x="367.70" y="679.00" width="6.2" height="6.2" fill="#000"/>
<line x1="339.50" y1="682.50" x2="383.50" y2="682.50" stroke="#000" stroke-width="2" />
<rect x="402.60" y="679.00" width="6.2" height="6.2" fill="#000"/>
<rect x="411.10" y="679.00" width="6.2" height="6.2" fill="#000"/>
<rect x="420.60" y="679.00" width="6.2" height="6.2" fill="#000"/>
<line x1="392.40" y1="682.50" x2="436.40" y2="682.50" stroke="#000" stroke-width="2" />
<rect x="464.70" y="670.00" width="6.2" height="6.2" fill="#000"/>
<rect x="460.20" y="679.80" width="6.2" height="6.2" fill="#000"/>
<rect x="469.30" y="679.80" width="6.2" height="6.2" fill="#000"/>
<line x1="446.00" y1="678.80" x2="490.10" y2="678.80" stroke="#000" stroke-width="2" />
<rect x="518.20" y="630.30" width="6.2" height="6.2" fill="#000"/>
<rect x="513.60" y="656.90" width="6.2" height="6.2" fill="#000"/>
<rect x="523.20" y="656.90" width="6.2" height="6.2" fill="#000"/>
<line x1="499.30" y1="646.70" x2="544.00" y2="646.70" stroke="#000" stroke-width="2" />
<circle cx="55.9" cy="731.6" r="2.9" fill="#fff" stroke="#000" stroke-width="1.8"/>
<text x="70.10" y="736.10" font-family="Liberation Sans, sans-serif" font-size="12.9" text-anchor="start" stroke="#000" stroke-width="0.35" >D2 Cosmopolitan</text>
<circle cx="178" cy="731.6" r="3.2" fill="#787878" stroke="#151515" stroke-width="1"/>
<text x="192.60" y="736.10" font-family="Liberation Sans, sans-serif" font-size="12.8" text-anchor="start" stroke="#000" stroke-width="0.35" >D2 Asian I</text>
<circle cx="264.8" cy="731.6" r="3.6" fill="#000"/>
<text x="279.30" y="736.10" font-family="Liberation Sans, sans-serif" font-size="12.9" text-anchor="start" stroke="#000" stroke-width="0.35" >D2 Asian/American</text>
<rect x="398.50" y="729.30" width="6.2" height="6.2" fill="#000"/>
<text x="419.70" y="737.00" font-family="Liberation Sans, sans-serif" font-size="14" text-anchor="start" stroke="#000" stroke-width="0.35" >D1GI</text>
</svg>
</body></html>
